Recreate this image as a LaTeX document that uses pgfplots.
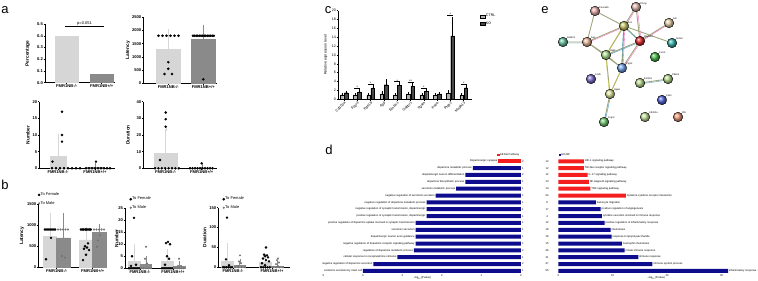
\documentclass[border=0pt]{standalone}
\usepackage{fontspec}
\setmainfont{Liberation Sans}
\usepackage{pgfplots}
\pgfplotsset{compat=1.18}
\definecolor{lg}{RGB}{214,214,214}
\definecolor{dg}{RGB}{138,138,138}
\definecolor{cc}{RGB}{178,178,178}
\definecolor{ck}{RGB}{72,72,72}
\definecolor{kr}{RGB}{245,30,30}
\definecolor{nv}{RGB}{12,12,140}
\definecolor{edge}{RGB}{160,165,125}
\newcommand\fa{\fontsize{4.1}{4.7}\selectfont\bfseries}
\newcommand\fal{\fontsize{4.8}{5.4}\selectfont\bfseries}
\newcommand\fb{\fontsize{4.0}{4.6}\selectfont}
\newcommand\fc{\fontsize{3.6}{4.2}\selectfont}
\newcommand\fd{\fontsize{2.7}{3.1}\selectfont}
\newcommand\fe{\fontsize{2.4}{2.8}\selectfont}
\newcommand\fL{\fontsize{13}{13}\selectfont}
\pgfplotsset{
 base/.style={scale only axis, anchor=south west, enlargelimits=false, clip=false,
  axis x line*=bottom, axis y line*=left, tick align=outside, major tick length=1.3pt,
  tick style={black, line width=0.45pt}, axis line style={black, line width=0.55pt},
  tick label style={font=\fa, inner sep=0.6pt}, label style={font=\fal},
  /pgf/number format/assume math mode=true, /pgf/number format/1000 sep={},
  ylabel style={anchor=center}},
 dots/.style={only marks, mark=*, mark size=1.05pt, black},
 mdots/.style={only marks, mark=*, mark size=0.8pt, color=black!55},
 ebar/.style={error bars/.cd, y dir=plus, y explicit, error bar style={draw=#1, line width=0.5pt}, error mark options={draw=#1, mark size=2.2pt}},
 bleg/.style={legend style={draw=none, fill=none, font=\fb, inner sep=0pt, row sep=3.3pt, nodes={inner sep=0.4pt}},
  legend cell align=left,
  legend image code/.code={\draw[mark repeat=2,mark phase=2,##1] plot coordinates {(0pt,0pt) (1.5pt,0pt) (3pt,0pt)};}},
}
\begin{document}
\begin{tikzpicture}
\useasboundingbox (0,0) rectangle (758pt,281pt);
\node[font=\fL] at (5pt,271pt) {a};
\node[font=\fL] at (5pt,96pt) {b};
\node[font=\fL] at (328pt,271pt) {c};
\node[font=\fL] at (329pt,131pt) {d};
\node[font=\fL] at (545pt,271pt) {e};

% ---------- a: Percentage
\begin{axis}[base, at={(45pt,198.3pt)}, width=70pt, height=58.7pt,
 xmin=45, xmax=115, ymin=0, ymax=0.5, ytick={0,0.1,0.2,0.3,0.4,0.5},
 yticklabel style={/pgf/number format/.cd, fixed, fixed zerofill, precision=1},
 xtick={66.7,101.7}, xticklabels={FMR1NB-/-,FMR1NB+/+},
 ylabel={Percentage}, ylabel style={at={(axis description cs:-0.245,0.5)}}]
\addplot[ybar, bar width=23.3, bar shift=0pt, fill=lg, draw=lg] coordinates {(66.7,0.4)};
\addplot[ybar, bar width=23.3, bar shift=0pt, fill=dg, draw=dg] coordinates {(101.7,0.07)};
\addplot[black, line width=0.5pt] coordinates {(65,0.477) (104,0.477)};
\node[font=\fb, anchor=south, inner sep=0.5pt] at (axis cs:84.5,0.479) {p=0.051};
\end{axis}

% ---------- a: Latency
\begin{axis}[base, at={(143.3pt,197.7pt)}, width=73.4pt, height=66pt,
 xmin=143.3, xmax=216.7, ymin=0, ymax=2500, ytick={0,500,1000,1500,2000,2500},
 xtick={168.3,203.3}, xticklabels={FMR1NB-/-,FMR1NB+/+},
 ylabel={Latency}, ylabel style={at={(axis description cs:-0.21,0.5)}}]
\addplot[ybar, bar width=23.3, bar shift=0pt, fill=lg, draw=lg, ebar=lg] coordinates {(168.3,1280) +- (0,680)};
\addplot[ybar, bar width=23.3, bar shift=0pt, fill=dg, draw=dg, ebar=dg] coordinates {(203.3,1680) +- (0,450)};
\addplot[dots] coordinates {(158.5,1800)(162.5,1800)(166.5,1800)(170.5,1800)(174.5,1800)(178.5,1800)
 (168.3,800)(168.3,550)(164.5,350)(172,350)};
\addplot[dots] coordinates {(193,1800)(194.6,1800)(196.2,1800)(197.8,1800)(199.4,1800)(201,1800)(202.6,1800)
 (204.2,1800)(205.8,1800)(207.4,1800)(209,1800)(210.6,1800)(212.2,1800)(213.8,1800)(203.3,150)};
\end{axis}

% ---------- a: Number
\begin{axis}[base, at={(39.3pt,112.7pt)}, width=75.7pt, height=66.6pt,
 xmin=39.3, xmax=115, ymin=0, ymax=20, ytick={0,5,10,15,20},
 xtick={58,95}, xticklabels={FMR1NB-/-,FMR1NB+/+},
 ylabel={Number}, ylabel style={at={(axis description cs:-0.15,0.5)}}]
\addplot[ybar, bar width=16, bar shift=0pt, fill=lg, draw=lg, ebar=lg] coordinates {(58,3.7) +- (0,6)};
\addplot[ybar, bar width=16, bar shift=0pt, fill=dg, draw=dg, ebar=dg] coordinates {(95,0.2) +- (0,0.8)};
\addplot[dots] coordinates {(62,17)(62,10)(62,8)(52.5,2)(52,0)(56,0)(60,0)(64,0)(68,0)(72,0)(76,0)(80,0)};
\addplot[dots] coordinates {(96,2)(86,0)(89,0)(92,0)(95,0)(98,0)(101,0)(104,0)(107,0)(110,0)};
\end{axis}

% ---------- a: Duration
\begin{axis}[base, at={(143.3pt,112.7pt)}, width=73.4pt, height=66.6pt,
 xmin=143.3, xmax=216.7, ymin=0, ymax=40, ytick={0,10,20,30,40},
 xtick={165.7,201.7}, xticklabels={FMR1NB-/-,FMR1NB+/+},
 ylabel={Duration}, ylabel style={at={(axis description cs:-0.21,0.5)}}]
\addplot[ybar, bar width=23, bar shift=0pt, fill=lg, draw=lg, ebar=lg] coordinates {(165.7,9.3) +- (0,14.2)};
\addplot[ybar, bar width=23, bar shift=0pt, fill=dg, draw=dg, ebar=dg] coordinates {(201.7,0.3) +- (0,0.7)};
\addplot[dots] coordinates {(165.7,33.5)(165.7,29.5)(165.7,25)(160,5)(155,0)(158.4,0)(161.8,0)(165.2,0)(168.6,0)(172,0)(175.4,0)(178.8,0)};
\addplot[dots] coordinates {(201.7,3)(190,0)(192.5,0)(195,0)(197.5,0)(200,0)(202.5,0)(205,0)(207.5,0)(210,0)(212.5,0)};
\end{axis}

% ---------- b: Latency
\begin{axis}[base, bleg, at={(38.3pt,13.7pt)}, width=67.7pt, height=63pt,
 xmin=38.3, xmax=106, ymin=0, ymax=1500, ytick={0,500,1000,1500},
 xtick={56.7,92.7}, xticklabels={FMR1NB-/-,FMR1NB+/+},
 ylabel={Latency}, ylabel style={at={(axis description cs:-0.24,0.5)}},
 legend style={at={(axis description cs:-0.007,1.194)}, anchor=north west}]
\addplot[forget plot, ybar, bar width=13.3, bar shift=0pt, fill=lg, draw=lg, ebar=lg] coordinates {(50,730) +- (0,500) (86.3,650) +- (0,250)};
\addplot[forget plot, ybar, bar width=13.3, bar shift=0pt, fill=dg, draw=dg, ebar=dg] coordinates {(63.3,700) +- (0,530) (99.3,830) +- (0,140)};
\addplot[dots] coordinates {(45,900)(47,900)(49,900)(51,900)(53,900)(55,900)(51,700)(46,190)
 (81,900)(82.4,900)(83.8,900)(85.2,900)(86.6,900)(88,900)(89.4,900)(90.8,900)
 (88,570)(85,500)(87,470)(84,440)(89,410)(86,300)(83,170)};
\addlegendentry{To Female}
\addplot[mdots] coordinates {(58,900)(60.5,900)(63,900)(65.5,900)(68,900)(62,270)(65,230)
 (94,900)(96.5,900)(99,900)(101.5,900)(104,900)(100,760)(98,640)(97,490)};
\addlegendentry{To Male}
\end{axis}

% ---------- b: Number
\begin{axis}[base, bleg, at={(125pt,12.7pt)}, width=60pt, height=60pt,
 xmin=125, xmax=185, ymin=0, ymax=25, ytick={0,5,10,15,20,25},
 xtick={140,173}, xticklabels={FMR1NB-/-,FMR1NB+/+},
 ylabel={Number}, ylabel style={at={(axis description cs:-0.14,0.5)}},
 legend style={at={(axis description cs:0.075,1.197)}, anchor=north west}]
\addplot[forget plot, ybar, bar width=11.7, bar shift=0pt, fill=lg, draw=lg, ebar=lg] coordinates {(134.2,2.8) +- (0,6.5) (167.5,3.0) +- (0,4.0)};
\addplot[forget plot, ybar, bar width=11.7, bar shift=0pt, fill=dg, draw=dg, ebar=dg] coordinates {(145.8,1.5) +- (0,2.7) (179.2,0.8) +- (0,1.2)};
\addplot[dots] coordinates {(134,21)(132,5)(136,1.5)(131,1)(129,0)(131,0)(133,0)(135,0)(137,0)(139,0)
 (168,11)(166,10.5)(170,10)(167,5)(169,4)(165,1.5)(162,0)(164,0)(166,0)(168,0)(170,0)(172,0)};
\addlegendentry{To Female}
\addplot[mdots] coordinates {(146,9)(145,4)(147,2)(141,0)(143.5,0)(146,0)(148.5,0)(151,0)
 (179,4)(178,1)(181,1)(175,0)(177.2,0)(179.4,0)(181.6,0)(183.8,0)};
\addlegendentry{To Male}
\end{axis}

% ---------- b: Duration
\begin{axis}[base, bleg, at={(218.3pt,13.7pt)}, width=71.7pt, height=59.6pt,
 xmin=218.3, xmax=290, ymin=0, ymax=150, ytick={0,50,100,150},
 xtick={233,272}, xticklabels={FMR1NB-/-,FMR1NB+/+},
 ylabel={Duration}, ylabel style={at={(axis description cs:-0.19,0.5)}},
 legend style={at={(axis description cs:0.059,1.189)}, anchor=north west}]
\addplot[forget plot, ybar, bar width=11.7, bar shift=0pt, fill=lg, draw=lg, ebar=lg] coordinates {(227.5,15) +- (0,40) (265.5,12) +- (0,16)};
\addplot[forget plot, ybar, bar width=11.7, bar shift=0pt, fill=dg, draw=dg, ebar=dg] coordinates {(239.7,5) +- (0,11) (277.5,3) +- (0,7)};
\addplot[dots] coordinates {(227,125)(226,20)(229,5)(223,0)(224.8,0)(226.6,0)(228.4,0)(230.2,0)(232,0)
 (266,50)(264,32)(267,30)(265,28)(268,25)(263,22)(266,18)(269,15)(262,10)(265,5)(261,0)(263.2,0)(265.4,0)(267.6,0)(269.8,0)};
\addlegendentry{To Female}
\addplot[mdots] coordinates {(240,30)(239,15)(241,10)(238,3)(235,0)(238.3,0)(241.6,0)(245,0)
 (278,22)(277,18)(279,12)(276,8)(278,3)(273,0)(276.3,0)(279.6,0)(283,0)};
\addlegendentry{To Male}
\end{axis}

% ---------- c
\begin{axis}[base, at={(338pt,181.7pt)}, width=134pt, height=88.6pt,
 xmin=338, xmax=472, ymin=0, ymax=20, ytick={0,2,4,6,8,10,12,14,16,18,20},
 tick label style={font=\fc},
 xtick={344,357.3,370.6,383.9,397.2,410.5,423.8,437.1,450.4,463.7},
 xticklabels={Cd300a,Fcgr3,Pde1b,App,Emilin1,Gabbr1,Itgam,Palm,Ptgs2,Mapk13},
 xticklabel style={rotate=45, anchor=north east, inner sep=0.5pt},
 ylabel={Relative expression level}, label style={font=\fc},
 ylabel style={at={(axis description cs:-0.092,0.5)}},
 legend style={at={(axis description cs:1.056,0.966)}, anchor=north west, draw=none, fill=none, font=\fc, row sep=2.4pt, inner sep=0pt, nodes={inner sep=0.5pt}},
 legend cell align=left,
 legend image code/.code={\draw[#1] (0pt,-1.4pt) rectangle (5.5pt,1.4pt);}]
\addplot[ybar, bar width=3.6, bar shift=0pt, fill=cc, draw=black, line width=0.25pt,
 error bars/.cd, y dir=plus, y explicit, error bar style={black, line width=0.35pt}, error mark options={black, mark size=1.2pt}]
 coordinates {(341.9,1.0) +- (0,0.1) (355.2,1.0) +- (0,0.05) (368.5,1.0) +- (0,0.1) (381.8,1.2) +- (0,0.4)
 (395.1,1.0) +- (0,0.1) (408.4,1.1) +- (0,0.2) (421.7,1.0) +- (0,0.1) (435.0,1.0) +- (0,0.05)
 (448.3,1.3) +- (0,0.45) (461.6,1.0) +- (0,0.15)};
\addlegendentry{CTRL}
\addplot[ybar, bar width=3.6, bar shift=0pt, fill=ck, draw=black, line width=0.25pt,
 error bars/.cd, y dir=plus, y explicit, error bar style={black, line width=0.35pt}, error mark options={black, mark size=1.2pt}]
 coordinates {(346.1,1.5) +- (0,0.2) (359.4,1.7) +- (0,0.3) (372.7,2.5) +- (0,0.35) (386.0,3.3) +- (0,0.9)
 (399.3,3.1) +- (0,0.5) (412.6,3.0) +- (0,0.3) (425.9,1.8) +- (0,0.15) (439.2,1.2) +- (0,0.2)
 (452.5,14.3) +- (0,3.9) (465.8,2.6) +- (0,0.35)};
\addlegendentry{KO}
\addplot[forget plot, black, line width=0.4pt, empty line=jump] coordinates {
(354.3,2.6) (360.3,2.6)

(367.6,3.45) (373.6,3.45)

(394.2,4.0) (400.2,4.0)

(407.5,3.9) (413.5,3.9)

(420.8,2.6) (426.8,2.6)

(447.4,19.0) (453.4,19.0)

(460.7,3.45) (466.7,3.45)
};
\node[font=\fc, anchor=south, inner sep=0.2pt, yshift=-1.2pt] at (axis cs:357.3,2.6) {*};
\node[font=\fc, anchor=south, inner sep=0.2pt, yshift=-1.2pt] at (axis cs:370.6,3.45) {*};
\node[font=\fc, anchor=south, inner sep=0.2pt, yshift=-1.2pt] at (axis cs:397.2,4.0) {*};
\node[font=\fc, anchor=south, inner sep=0.2pt, yshift=-1.2pt] at (axis cs:410.5,3.9) {**};
\node[font=\fc, anchor=south, inner sep=0.2pt, yshift=-1.2pt] at (axis cs:423.8,2.6) {*};
\node[font=\fc, anchor=south, inner sep=0.2pt, yshift=-1.2pt] at (axis cs:450.4,19.0) {*};
\node[font=\fc, anchor=south, inner sep=0.2pt, yshift=-1.2pt] at (axis cs:463.7,3.45) {*};
\end{axis}

% ---------- d left
\begin{axis}[scale only axis, anchor=south west, clip=false, enlargelimits=false,
 at={(323.5pt,7pt)}, width=197.5pt, height=117pt,
 xmin=0, xmax=5, x dir=reverse, ymin=157, ymax=274, y dir=reverse,
 xtick={0,1,2,3,4,5}, xtick pos=bottom, ytick=\empty, axis line style={draw=none}, xtick style={draw=none},
 tick label style={font=\fd, inner sep=0.3pt},
 /pgf/number format/assume math mode=true,
 xlabel={–log\textsubscript{10}(Pvalue)}, xlabel style={font=\fd, at={(axis description cs:0.5,0)}, anchor=north, inner sep=0pt, yshift=-2.4pt},
 legend style={at={(axis description cs:0.88,1.017)}, anchor=west, draw=none, fill=none, font=\fd, inner sep=0pt, nodes={inner sep=0.5pt}},
 legend image code/.code={\fill[#1] (0pt,-1.1pt) rectangle (2.2pt,1.1pt);}]
\addplot[xbar, bar width=4, bar shift=0pt, fill=kr, draw=none] coordinates {(0.57,161.3)};
\addlegendentry{KEGG Pathway}
\addplot[forget plot, xbar, bar width=4, bar shift=0pt, fill=nv, draw=none] coordinates {
(1.22,168.15)(1.41,175.0)(1.41,181.85)(1.64,188.7)(2.16,195.55)(2.39,202.4)(2.39,209.25)(2.39,216.1)
(2.67,222.95)(2.67,229.8)(2.67,236.65)(2.67,243.5)(2.71,250.35)(3.13,257.2)(3.74,264.05)(4.0,270.9)};
\begin{scope}[every node/.style={font=\fd, anchor=east, inner sep=0.8pt}]
\node at (axis cs:0.57,161.3) {Dopaminergic synapse};
\node at (axis cs:1.22,168.15) {dopamine metabolic process};
\node at (axis cs:1.41,175.0) {dopaminergic neuron differentiation};
\node at (axis cs:1.41,181.85) {dopamine biosynthetic process};
\node at (axis cs:1.64,188.7) {serotonin metabolic process};
\node at (axis cs:2.16,195.55) {negative regulation of serotonin secretion};
\node at (axis cs:2.39,202.4) {negative regulation of dopamine metabolic process};
\node at (axis cs:2.39,209.25) {negative regulation of synaptic transmission, dopaminergic};
\node at (axis cs:2.39,216.1) {positive regulation of synaptic transmission, dopaminergic};
\node at (axis cs:2.67,222.95) {positive regulation of dopamine uptake involved in synaptic transmission};
\node at (axis cs:2.67,229.8) {serotonin secretion};
\node at (axis cs:2.67,236.65) {dopaminergic neuron axon guidance};
\node at (axis cs:2.67,243.5) {negative regulation of dopamine receptor signaling pathway};
\node at (axis cs:2.71,250.35) {regulation of dopamine metabolic process};
\node at (axis cs:3.13,257.2) {cellular response to norepinephrine stimulus};
\node at (axis cs:3.74,264.05) {negative regulation of dopamine secretion};
\node at (axis cs:4.0,270.9) {serotonin secretion by mast cell};
\end{scope}
\begin{scope}[every node/.style={font=\fd, anchor=center, inner sep=0pt}]
\node at (axis cs:-0.05,161.3) {2};\node at (axis cs:-0.66,161.3) {12};
\node at (axis cs:-0.05,168.15) {1};\node at (axis cs:-0.66,168.15) {12};
\node at (axis cs:-0.05,175.0) {2};\node at (axis cs:-0.66,175.0) {12};
\node at (axis cs:-0.05,181.85) {1};\node at (axis cs:-0.66,181.85) {13};
\node at (axis cs:-0.05,188.7) {1};\node at (axis cs:-0.66,188.7) {14};
\node at (axis cs:-0.05,195.55) {1};\node at (axis cs:-0.66,195.55) {64};
\node at (axis cs:-0.05,202.4) {1};\node at (axis cs:-0.66,202.4) {8};
\node at (axis cs:-0.05,209.25) {1};\node at (axis cs:-0.66,209.25) {17};
\node at (axis cs:-0.05,216.1) {1};\node at (axis cs:-0.66,216.1) {4};
\node at (axis cs:-0.05,222.95) {1};\node at (axis cs:-0.66,222.95) {12};
\node at (axis cs:-0.05,229.8) {1};\node at (axis cs:-0.66,229.8) {18};
\node at (axis cs:-0.05,236.65) {1};\node at (axis cs:-0.66,236.65) {18};
\node at (axis cs:-0.05,243.5) {1};\node at (axis cs:-0.66,243.5) {15};
\node at (axis cs:-0.05,250.35) {2};\node at (axis cs:-0.66,250.35) {46};
\node at (axis cs:-0.05,257.2) {1};\node at (axis cs:-0.66,257.2) {21};
\node at (axis cs:-0.05,264.05) {2};\node at (axis cs:-0.66,264.05) {47};
\node at (axis cs:-0.05,270.9) {1};\node at (axis cs:-0.66,270.9) {55};
\end{scope}
\end{axis}

% ---------- d right
\begin{axis}[scale only axis, anchor=south west, clip=false, enlargelimits=false,
 at={(558.3pt,7pt)}, width=199.7pt, height=117pt,
 xmin=0, xmax=36.7, ymin=157, ymax=274, y dir=reverse,
 xtick={0,10,20,30}, xtick pos=bottom, ytick=\empty, axis line style={draw=none}, xtick style={draw=none},
 tick label style={font=\fd, inner sep=0.3pt},
 /pgf/number format/assume math mode=true,
 xlabel={–log\textsubscript{10}(Pvalue)}, xlabel style={font=\fd, at={(axis description cs:0.49,0)}, anchor=north, inner sep=0pt, yshift=-2.4pt},
 legend style={at={(axis description cs:0,1.017)}, anchor=west, draw=none, fill=none, font=\fd, inner sep=0pt, nodes={inner sep=0.5pt}},
 legend image code/.code={\fill[#1] (0pt,-1.1pt) rectangle (2.2pt,1.1pt);}]
\addplot[forget plot, xbar, bar width=4, bar shift=0pt, fill=kr, draw=none] coordinates {
(4.7,161.3)(4.7,168.15)(5.4,175.0)(5.6,181.85)(5.9,188.7)(12.4,195.55)};
\addplot[xbar, bar width=4, bar shift=0pt, fill=nv, draw=none] coordinates {
(6.9,202.4)(7.8,209.25)(8.0,216.1)(8.5,222.95)(9.6,229.8)(9.8,236.65)(11.7,243.5)(12.2,250.35)
(14.7,257.2)(17.3,264.05)(31.2,270.9)};
\addlegendentry{GO-BP}
\begin{scope}[every node/.style={font=\fd, anchor=west, inner sep=0.8pt}]
\node at (axis cs:4.7,161.3) {HIF-1 signaling pathway};
\node at (axis cs:4.7,168.15) {Toll-like receptor signaling pathway};
\node at (axis cs:5.4,175.0) {IL-17 signaling pathway};
\node at (axis cs:5.6,181.85) {NF-kappa B signaling pathway};
\node at (axis cs:5.9,188.7) {TNF signaling pathway};
\node at (axis cs:12.4,195.55) {Cytokine-cytokine receptor interaction};
\node at (axis cs:6.9,202.4) {leukocyte migration};
\node at (axis cs:7.8,209.25) {positive regulation of angiogenesis};
\node at (axis cs:8.0,216.1) {cytokine secretion involved in immune response};
\node at (axis cs:8.5,222.95) {positive regulation of inflammatory response};
\node at (axis cs:9.6,229.8) {chemotaxis};
\node at (axis cs:9.8,236.65) {response to lipopolysaccharide};
\node at (axis cs:11.7,243.5) {neutrophil chemotaxis};
\node at (axis cs:12.2,250.35) {innate immune response};
\node at (axis cs:14.7,257.2) {immune response};
\node at (axis cs:17.3,264.05) {immune system process};
\node at (axis cs:31.2,270.9) {inflammatory response};
\end{scope}
\end{axis}

% ---------- e network
\begin{axis}[scale only axis, anchor=south west, clip=false, hide axis,
 at={(545pt,151pt)}, width=155pt, height=130pt,
 xmin=545, xmax=700, ymin=0, ymax=130, y dir=reverse]
\addplot[edge, line width=0.9pt, empty line=jump] coordinates {
(595,11) (624,26)

(595,11) (587,42)

(636,7) (624,26)

(636,7) (640,41)

(624,26) (640,41)

(624,26) (587,42)

(624,26) (606,55)

(624,26) (622,68)

(624,26) (672,43)

(669,23) (640,41)

(640,41) (606,55)

(640,41) (622,68)

(587,42) (606,55)

(587,42) (563,42)

(606,55) (622,68)

(606,55) (610,94)

(622,68) (610,94)

(610,94) (604,122)

(640,83) (668,79)

(587,42) (622,68)
};
\addplot[magenta!60, line width=0.35pt, empty line=jump] coordinates {
(637.2,7) (625.2,26)

(637.2,7) (641.2,41)

(624,27) (587,43)

(641,41.5) (623,68.5)

(625,26) (623,68)

(669,24) (640,42)
};
\addplot[cyan!70!black, line width=0.35pt, empty line=jump] coordinates {
(640,42) (606,56)

(587,43) (563,43)

(611,94) (605,122)

(640,84) (668,80)

(623.5,26.5) (621.5,68.5)

(624,26.8) (640,41.8)
};
\addplot[yellow!80!black, line width=0.3pt, empty line=jump] coordinates {
(605.5,55) (609.5,94)

(622,68) (610,94)

(606,55) (623,26)
};
\addplot[only marks, mark=ball, mark size=4.8pt, mark options={ball color={rgb,255:red,232;green,168;blue,168}}] coordinates {(595,11)};
\addplot[only marks, mark=ball, mark size=4.8pt, mark options={ball color={rgb,255:red,222;green,182;blue,170}}] coordinates {(636,7)};
\addplot[only marks, mark=ball, mark size=4.8pt, mark options={ball color={rgb,255:red,196;green,196;blue,100}}] coordinates {(624,26)};
\addplot[only marks, mark=ball, mark size=4.8pt, mark options={ball color={rgb,255:red,222;green,40;blue,40}}] coordinates {(640,41)};
\addplot[only marks, mark=ball, mark size=4.8pt, mark options={ball color={rgb,255:red,226;green,206;blue,166}}] coordinates {(669,23)};
\addplot[only marks, mark=ball, mark size=4.8pt, mark options={ball color={rgb,255:red,50;green,176;blue,168}}] coordinates {(672,43)};
\addplot[only marks, mark=ball, mark size=4.8pt, mark options={ball color={rgb,255:red,70;green,186;blue,70}}] coordinates {(655,57)};
\addplot[only marks, mark=ball, mark size=4.8pt, mark options={ball color={rgb,255:red,100;green,192;blue,160}}] coordinates {(563,42)};
\addplot[only marks, mark=ball, mark size=4.8pt, mark options={ball color={rgb,255:red,232;green,180;blue,150}}] coordinates {(587,42)};
\addplot[only marks, mark=ball, mark size=4.8pt, mark options={ball color={rgb,255:red,170;green,220;blue,140}}] coordinates {(606,55)};
\addplot[only marks, mark=ball, mark size=4.8pt, mark options={ball color={rgb,255:red,110;green,160;blue,230}}] coordinates {(622,68)};
\addplot[only marks, mark=ball, mark size=4.8pt, mark options={ball color={rgb,255:red,128;green,108;blue,204}}] coordinates {(591,79)};
\addplot[only marks, mark=ball, mark size=4.8pt, mark options={ball color={rgb,255:red,182;green,216;blue,140}}] coordinates {(640,83)};
\addplot[only marks, mark=ball, mark size=4.8pt, mark options={ball color={rgb,255:red,182;green,216;blue,140}}] coordinates {(668,79)};
\addplot[only marks, mark=ball, mark size=4.8pt, mark options={ball color={rgb,255:red,216;green,226;blue,150}}] coordinates {(610,94)};
\addplot[only marks, mark=ball, mark size=4.8pt, mark options={ball color={rgb,255:red,76;green,96;blue,214}}] coordinates {(662,100)};
\addplot[only marks, mark=ball, mark size=4.8pt, mark options={ball color={rgb,255:red,192;green,222;blue,152}}] coordinates {(645,117)};
\addplot[only marks, mark=ball, mark size=4.8pt, mark options={ball color={rgb,255:red,232;green,150;blue,118}}] coordinates {(678,117)};
\addplot[only marks, mark=ball, mark size=4.8pt, mark options={ball color={rgb,255:red,110;green,200;blue,110}}] coordinates {(604,122)};
\begin{scope}[every node/.style={font=\fe, anchor=south west, inner sep=0pt}]
\node at (axis cs:599,9) {Cacna1b};
\node at (axis cs:640,5) {Prkcg};
\node at (axis cs:628,24) {Fos};
\node at (axis cs:644,38) {Mapk13};
\node at (axis cs:673,20) {Ahr};
\node at (axis cs:676,40) {Nr4a2};
\node at (axis cs:659,54) {Cxcr2};
\node at (axis cs:567,39) {Gabbr1};
\node at (axis cs:591,39) {App};
\node at (axis cs:610,52) {Itgb2};
\node at (axis cs:626,65) {Ptgs2};
\node at (axis cs:595,76) {Scd5};
\node at (axis cs:644,80) {Emilin1};
\node at (axis cs:672,76) {Pde1b};
\node at (axis cs:614,91) {Itgam};
\node at (axis cs:666,97) {Palm};
\node at (axis cs:649,114) {Cd300a};
\node at (axis cs:682,114) {Il1b};
\node at (axis cs:608,119) {Fcgr3};
\end{scope}
\end{axis}
\end{tikzpicture}
\end{document}
